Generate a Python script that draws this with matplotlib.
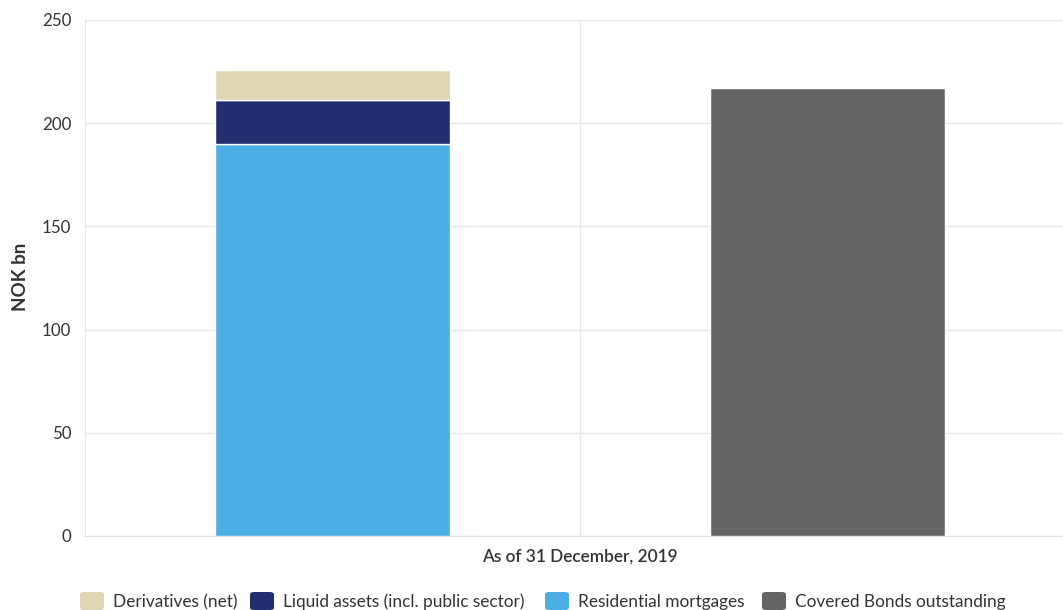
import matplotlib
matplotlib.use("Agg")
import matplotlib.pyplot as plt
from matplotlib.patches import FancyBboxPatch

plt.rcParams['font.family'] = ['Lato', 'DejaVu Sans']

# Cover pool composition vs. covered bonds outstanding (NOK bn)
category = "As of 31 December, 2019"
series_names = ["Derivatives (net)", "Liquid assets (incl. public sector)",
                "Residential mortgages", "Covered Bonds outstanding"]
series_colors = ["#ded5b2", "#212e70", "#4daee6", "#646464"]
residential_mortgages = 190.0
liquid_assets = 21.0
derivatives_net = 15.0
covered_bonds = 217.0
y_ticks = [0, 50, 100, 150, 200, 250]

W, H = 1063, 610
fig = plt.figure(figsize=(W / 100, H / 100), dpi=100)
ax = fig.add_axes([85 / W, 1 - 536 / H, 990 / W, 516 / H])

grid_c = "#e6e6e6"
bar_w = 0.238
x_pool, x_bonds = -0.25, 0.25

# stacked cover pool column
ax.bar(x_pool, residential_mortgages, bar_w, color=series_colors[2],
       edgecolor="white", linewidth=1, zorder=3)
ax.bar(x_pool, liquid_assets, bar_w, bottom=residential_mortgages,
       color=series_colors[1], edgecolor="white", linewidth=1, zorder=3)
ax.bar(x_pool, derivatives_net, bar_w, bottom=residential_mortgages + liquid_assets,
       color=series_colors[0], edgecolor="white", linewidth=1, zorder=3)
# covered bonds column
ax.bar(x_bonds, covered_bonds, bar_w, color=series_colors[3],
       edgecolor="white", linewidth=1, zorder=3)

ax.set_xlim(-0.5, 0.5)
ax.set_ylim(0, 250)
ax.set_yticks(y_ticks)
ax.set_yticklabels([str(t) for t in y_ticks])
ax.set_xticks([0])
ax.set_xticklabels([category], fontsize=12.4, fontweight="semibold", color="#333333")
ax.tick_params(axis="x", length=0, pad=9)
ax.tick_params(axis="y", length=0, pad=10, labelsize=12.2, labelcolor="#333333")

ax.grid(axis="y", color=grid_c, linewidth=1, zorder=0)
ax.axvline(0, color=grid_c, linewidth=1, zorder=0)
for s in ["top", "right"]:
    ax.spines[s].set_visible(False)
ax.spines["left"].set_color(grid_c)
ax.spines["bottom"].set_color("#e0e0e0")
ax.spines["left"].set_zorder(0)

fig.text(20 / W, 1 - 277 / H, "NOK bn", rotation=90, fontsize=13.5,
         fontweight="bold", color="#333333", ha="center", va="center")

# legend row along the bottom edge
legend_x = [80, 250, 545, 762]
legend_y = 601
for name, col, lx in zip(series_names, series_colors, legend_x):
    fig.patches.append(FancyBboxPatch(
        (lx / W, (H - legend_y - 9) / H), 24 / W, 18 / H,
        boxstyle="round,pad=0,rounding_size=0.004", transform=fig.transFigure,
        facecolor=col, edgecolor="none"))
    fig.text((lx + 33) / W, 1 - (legend_y + 1) / H, name, fontsize=12.4,
             color="#333333", ha="left", va="center")

fig.savefig("out.png", dpi=100, facecolor="white")
